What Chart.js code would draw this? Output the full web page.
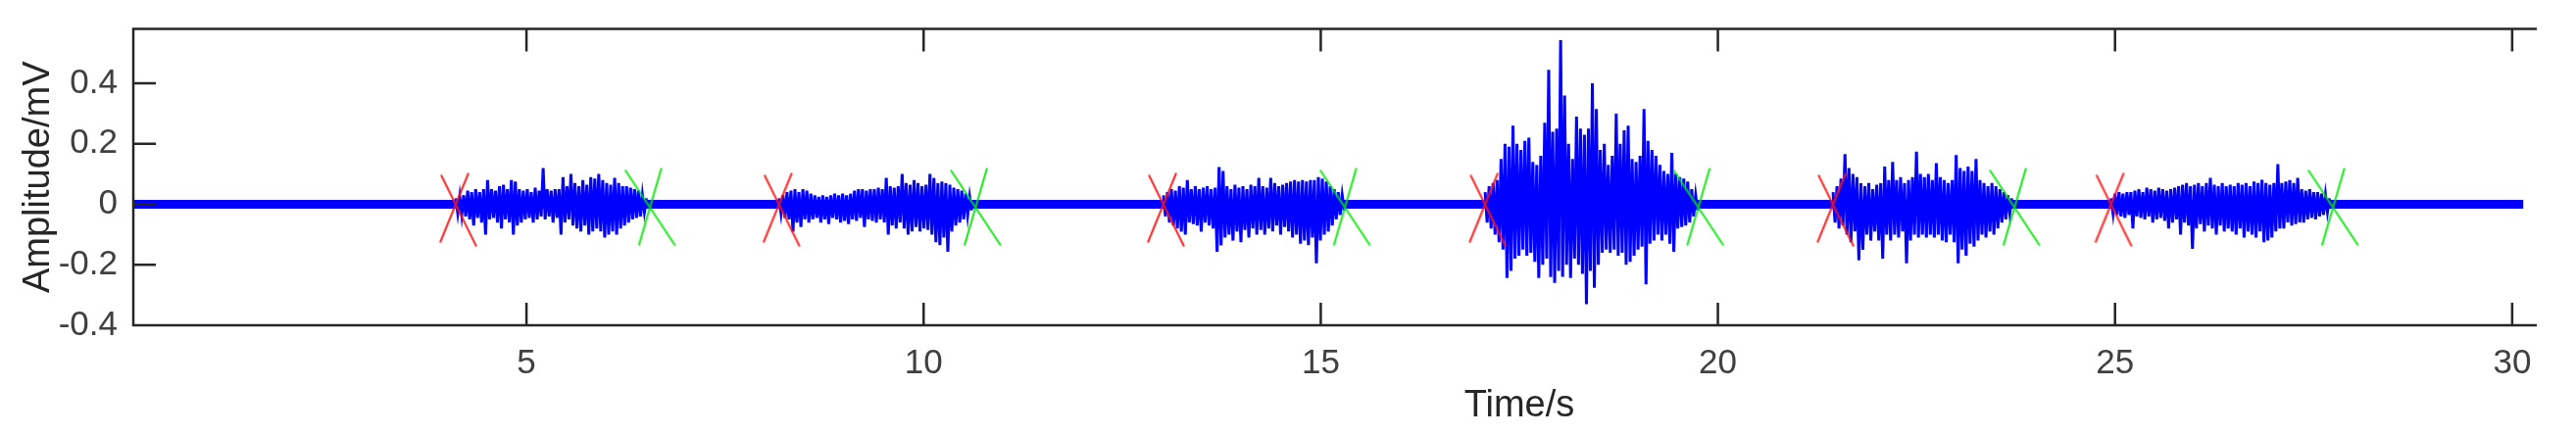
<!DOCTYPE html>
<html>
<head>
<meta charset="utf-8">
<script src="https://cdn.jsdelivr.net/npm/chart.js@4.4.0/dist/chart.umd.min.js"></script>
<style>
  html, body { margin: 0; padding: 0; background: #fff; }
  #wrap { width: 2628px; height: 444px; }
</style>
</head>
<body>
<div id="wrap"><canvas id="myChart" width="2628" height="444"></canvas></div>
<script>
// Axis ticks and limits
const xTicks = [5, 10, 15, 20, 25, 30];
const yTicks = [-0.4, -0.2, 0, 0.2, 0.4];
const xRange = [0.05, 30.31];
const yRange = [-0.4, 0.58];

// Detected onset (red) and offset (green) of each contraction, seconds
const onsetTimes = [4.11, 8.18, 13.02, 17.07, 21.45, 24.95];
const offsetTimes = [6.55, 10.65, 15.30, 19.75, 23.73, 27.74];

// Resting level between contractions
const restStart = 0.05;
const restEnd = 30.14;
const restLevel = 0;

const sampleStep = 0.025;
const burstStarts = [4.11, 8.18, 13.02, 17.07, 21.45, 24.95];
const burst1 = [.02,-.03,.025,-.035,.03, -.04,.045,-.05,.04,-.07,.05,-.045,.04,-.06,.05,-.1, .08,-.05, .05,-.045,.045,-.06,
  .06,-.08,.065,-.05,.05,-.06,.08, -.1,.075,-.07,.05,-.06, .045,-.05,.05,-.045,.04,-.06,.055,-.05,.045,-.04,.12,
  -.05,.05,-.04,.045,-.06,.05,-.045,.05, -.1,.09, -.06,.06,-.05,.1, -.07,.07,-.08,.06,-.09,.08,-.07,
  .065,-.1,.09,-.09,.085,-.08,.1, -.09,.08,-.11,.07,-.1,.065,-.09,
  .087,-.1,.07,-.08,.06,-.07,.06,-.06,.055,-.05,.05,-.045,.045,-.04,.03,-.025,.02];
const burst2 = [.02,-.03,.03,-.045,.04,-.05,.045,-.09,.05,-.06,.04,-.075,.05,-.05,.045,
  -.06,.035,-.05,.03,-.045,.025,-.06,.03,-.05,.025,-.065,.03,-.045,.035,-.05,.03,-.06,.035,-.055,.03,-.065,.035,
  -.05,.045,-.055,.05,-.045,.05,-.075,.045,-.05,.05,-.055,.05,-.06,.055,-.05,.05,-.06,
  .087,-.1, .06,-.07,.055,-.08,.06,-.06, .1,-.08,.07,-.1,.065,-.09,.08,-.075,.07,-.09,.06,-.08,
  .065,-.085,.1,-.1,.087,-.125,.07,-.135,.075,-.11,.07,-.157,.065,-.09,.055,-.07,.05,-.06,.045,-.05,.035,-.035,.025,-.02];
const burst3 = [.03,-.04,.04,-.06,.05,-.07,.045,-.08,.06,-.09,.055,-.1,.08,
  -.06,.05,-.065,.06,-.07,.05,-.09,.055,-.06,.06,-.07,.05,-.08,.055,
  -.157,.123,-.136,.11,-.11,
  .06,-.1,.05,-.12,.065,-.09,.055,-.125,.06,-.085,.05,-.11,.065,-.08,.06,-.1,
  .087,-.085,.06,-.1,.055,-.08, .087,-.09,.07,-.07,.06,-.1,.065,-.075,.07,
  -.09,.075,-.11,.08,-.1,.075,-.13,.08,-.12,.075,-.135,.08,-.11,.08, -.195,
  .09,-.12,.085,-.1,.075,-.09,.06,-.07,.05,-.05,.04,-.035,.03,-.02];
const burst4 = [.04,-.06,.06,-.08,.07,-.1,.08,
  -.125,.15,-.15,.2,-.244,.19,-.22,.26,-.18,.2,
  -.17,.18,-.15,.21,-.17,.22, -.16,.14,-.19,.13,-.244,.16,
  -.2,.27,-.18,.445,-.24, .24,-.26,.25,-.22,.543,
  -.24,.36,-.2,.2,-.244,.15,-.18,.29,-.2,.25,-.23,.23,-.33,.25,-.22,.4,-.276,.315,-.2,
  .18,-.16,.2,-.15,.13,-.16,.16,-.15, .3,-.17,.2,-.16,.245,-.2,.26,-.19,
  .15,-.17,.14,-.15,.16,-.14, .315,-.265, .21,-.13,.18,-.12,.16,-.1,
  .13,-.12,.11,-.1,.1,-.13,.17,-.157, .1,-.08,.09,-.075,.085,-.07,.075,-.06,.05,-.04,.03,-.02];
const burst5 = [.04,-.06,.06,-.08,.085,-.07,.166,
  -.1,.12,-.125,.1,-.09,.09,-.185,
  .07,-.15,.06,-.1,.07,-.12,.05,-.09,.065,-.12,.07,-.18,
  .125,-.1,.08,-.12,
  .14,-.1,.08,-.11,.09,-.09,.07,-.195,.08,-.12,.09,-.1,
  .174,-.11,.1,-.1,.09,-.11,.1,-.1,.08,-.11,.136,-.1,
  .09,-.12,.08,-.125,.07,-.1,.08,-.125,.163,-.195,
  .12,-.15,.11,-.17,.125,-.13,.11,-.14,.15,
  -.12,.08,-.1,.07,-.11,.06,-.09,.07,-.1,.06,-.08,
  .05,-.06,.04,-.05,.03,-.03,.02];
const burst6 = [.02,-.03,.035,-.035,.04,-.04,.035,-.045,.04,-.035,.04,-.08,
  .045,-.04,.05,-.045,.04,-.05,.055,-.04,.05,-.06,.045,-.05,.055,-.045,.05,-.055,.045,-.08,.05,-.06,.055,-.05,
  .06,-.1,.065,-.06,.07,-.07,.06,-.147,.065,-.08,.07,-.065,.06,-.09,.07,-.07,
  .087,
  -.08,.065,-.1,.06,-.07,.07,-.09,.06,-.08,.065,-.09,.06,-.1,.07,-.08,.065,-.11,.07,-.09,.06,-.1,.075,-.11,.07,-.09,
  .081,-.125,.07,-.12,.065,-.11,.07,-.09,.133,-.08,
  .07,-.08,.075,-.06,.08,-.07,.07,-.065,.087,-.06,
  .05,-.06,.045,-.05,.05,-.045,.04,-.05,.04,-.04,.035,-.035,.03,-.025,.02];

const bursts = [burst1, burst2, burst3, burst4, burst5, burst6];

// Marker glyph: two strokes, given relative to the marker centre
function makeCross(color, strokes, w, h) {
    const c = document.createElement('canvas');
    c.width = w;
    c.height = h;
    const g = c.getContext('2d');
    g.strokeStyle = color;
    g.lineWidth = 2.2;
    g.beginPath();
    strokes.forEach(s => {
        g.moveTo(w / 2 + s[0], h / 2 + s[1]);
        g.lineTo(w / 2 + s[2], h / 2 + s[3]);
    });
    g.stroke();
    return c;
}
const redCross = makeCross('rgba(255,20,20,0.85)', [[-15, -30, 21, 43], [13, -32, -16, 39]], 50, 92);
const greenCross = makeCross('rgba(0,230,0,0.85)', [[-25, -35, 26, 42], [12, -37, -11, 42]], 58, 90);

const axisColor = '#262626';
const labelColor = '#404040';
const fontFamily = '"Liberation Sans", Arial, sans-serif';

// Frame, inward ticks and axis titles, MATLAB style
const framePlugin = {
    id: 'frame',
    afterDraw(chart) {
        const ctx = chart.ctx;
        const a = chart.chartArea;
        const xs = chart.scales.x;
        const ys = chart.scales.y;
        ctx.save();
        ctx.strokeStyle = axisColor;
        ctx.lineWidth = 2.5;
        ctx.beginPath();
        ctx.moveTo(a.left, a.top); ctx.lineTo(a.right, a.top);
        ctx.moveTo(a.left, a.bottom); ctx.lineTo(a.right, a.bottom);
        ctx.moveTo(a.left, a.top - 1.2); ctx.lineTo(a.left, a.bottom + 1.2);
        xTicks.forEach(v => {
            const px = xs.getPixelForValue(v);
            ctx.moveTo(px, a.bottom); ctx.lineTo(px, a.bottom - 23);
            ctx.moveTo(px, a.top); ctx.lineTo(px, a.top + 23);
        });
        yTicks.forEach(v => {
            const py = ys.getPixelForValue(v);
            ctx.moveTo(a.left, py); ctx.lineTo(a.left + 23, py);
        });
        ctx.stroke();

        ctx.fillStyle = axisColor;
        ctx.font = '38px ' + fontFamily;
        ctx.textAlign = 'center';
        ctx.textBaseline = 'alphabetic';
        ctx.fillText('Time/s', 1550, 425);
        ctx.translate(50, (a.top + a.bottom) / 2);
        ctx.rotate(-Math.PI / 2);
        ctx.fillText('Amplitude/mV', 0, 0);
        ctx.restore();
    }
};

// One dataset per burst so the bursts are not joined to each other
const burstSets = bursts.map((vals, k) => ({
    label: 'EMG ' + (k + 1),
    data: vals.map((v, i) => ({ x: burstStarts[k] + i * sampleStep, y: v })),
    borderColor: '#0000ff',
    backgroundColor: '#0000ff',
    borderWidth: 3,
    borderJoinStyle: 'miter',
    fill: 'origin',
    pointRadius: 0,
    tension: 0,
    order: 1
}));

const ctx = document.getElementById('myChart').getContext('2d');
const myChart = new Chart(ctx, {
    type: 'line',
    data: {
        datasets: [
            {
                label: 'onset',
                data: onsetTimes.map(t => ({ x: t, y: restLevel })),
                showLine: false,
                pointStyle: redCross,
                pointRadius: 5,
                order: 0
            },
            {
                label: 'offset',
                data: offsetTimes.map(t => ({ x: t, y: restLevel })),
                showLine: false,
                pointStyle: greenCross,
                pointRadius: 5,
                order: 0
            },
            ...burstSets,
            {
                label: 'rest',
                data: [{ x: restStart, y: restLevel }, { x: restEnd, y: restLevel }],
                borderColor: '#0000ff',
                borderWidth: 9,
                pointRadius: 0,
                order: 2
            }
        ]
    },
    options: {
        responsive: false,
        animation: false,
        devicePixelRatio: 1,
        events: [],
        layout: { padding: { left: 0, top: 29.5, right: 40, bottom: 0 } },
        plugins: { legend: { display: false }, tooltip: { enabled: false }, filler: { propagate: false } },
        scales: {
            x: {
                type: 'linear',
                min: xRange[0],
                max: xRange[1],
                grid: { display: false },
                border: { display: false },
                afterFit(s) { s.height = 112; },
                afterBuildTicks(s) { s.ticks = xTicks.map(v => ({ value: v })); },
                ticks: {
                    autoSkip: false,
                    maxRotation: 0,
                    padding: 10,
                    color: labelColor,
                    font: { family: fontFamily, size: 35 },
                    callback: v => String(v)
                }
            },
            y: {
                type: 'linear',
                min: yRange[0],
                max: yRange[1],
                grid: { display: false },
                border: { display: false },
                afterFit(s) { s.width = 136; },
                afterBuildTicks(s) { s.ticks = yTicks.map(v => ({ value: v })); },
                ticks: {
                    autoSkip: false,
                    padding: 8,
                    color: labelColor,
                    font: { family: fontFamily, size: 35 },
                    callback: v => String(v)
                }
            }
        }
    },
    plugins: [framePlugin]
});
</script>
</body>
</html>
